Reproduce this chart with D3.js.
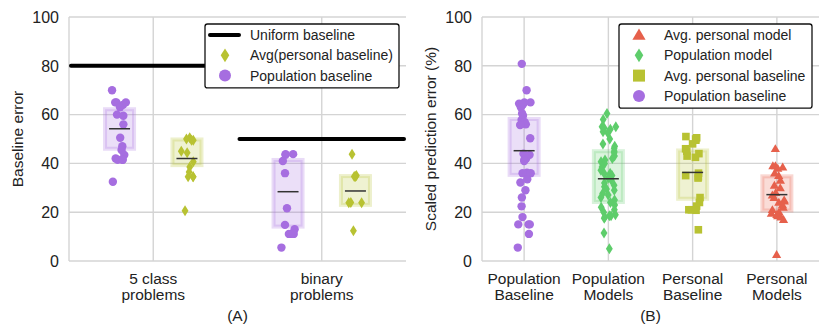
<!DOCTYPE html>
<html>
<head>
<meta charset="utf-8">
<script src="https://cdn.jsdelivr.net/npm/d3@7"></script>
<style>
  body { margin: 0; background: #fff; }
  text { font-family: "Liberation Sans", Arial, sans-serif; fill: #222; }
</style>
</head>
<body>
<script>
// ---- data, panel A ----
var catsA = ["5 class|problems", "binary|problems"];
var uniformBaseline = [80, 50];
var popBaselineA = [
  [70, 65, 65, 65, 64, 63, 60, 59.5, 56, 50.5, 47, 45.5, 43.5, 42, 41.5, 41.5, 41.5, 32.5],
  [43.8, 43.8, 43.5, 41, 36, 21.6, 14.8, 13, 11.1, 11.1, 11.1, 5.5]
];
var avgPersonalA = [
  [50.5, 50, 49.5, 49.5, 45, 44.4, 40.7, 38.5, 36.5, 34.5, 34.5, 34.5, 20.6],
  [43.7, 35, 34.6, 34.6, 24, 23.9, 23.9, 12.4]
];
// box: [low, median, high]
var boxPopA = [[46, 54.2, 62.2], [14.1, 28.4, 41.4]];
var boxAvgA = [[39.3, 42, 49.8], [23, 28.7, 34.8]];

// ---- data, panel B ----
var catsB = ["Population|Baseline", "Population|Models", "Personal|Baseline", "Personal|Models"];
var popBaselineB = [80.8, 70, 65, 65, 64.5, 64, 63, 60.5, 59.5, 57.8, 57, 56, 55.7, 50.3, 44, 43.5, 43, 42,
  41.5, 41, 36.2, 36, 36, 33.5, 32.2, 29, 26, 22.4, 18, 15, 15, 15, 11.1, 5.5];
var popModelsB = [60.5, 58, 55, 55, 54.5, 54, 53, 52.5, 50, 48, 47, 46.2, 45, 44.4, 43, 42, 41.4, 40.7, 40,
  38.5, 37.2, 36, 35.8, 35, 34, 33.2, 32, 31, 30.4, 29.5, 29, 27.7, 27, 26, 25, 24, 23, 22, 21, 20, 19,
  18.5, 18.5, 18, 17.5, 11.5, 5];
var personalBaselineB = [51, 50.5, 50, 49.5, 48, 46, 45, 44, 43, 42.5, 36, 35, 34.5, 34, 26, 24, 22.5, 21, 21, 20.8, 12.8];
var personalModelsB = [46, 39, 39, 38.5, 38, 36, 35, 33, 31, 30, 28, 27, 26, 25, 24.5, 24, 23, 22, 21, 20,
  19.5, 19, 18.5, 18, 17, 2.6];
var boxB = [[35.3, 45.2, 58.2], [24.2, 33.7, 45], [25.5, 36.3, 45.3], [20.7, 27.2, 34.7]];

var yTicks = [0, 20, 40, 60, 80, 100];

// ---- style ----
var width = 830, height = 336;
var purple = "#a66ee0", olive = "#b8c232", green = "#5ecd6b", red = "#e6604b";
var gridColor = "#d4d4d4";

var svg = d3.select("body").append("svg")
    .attr("width", width)
    .attr("height", height);

// marker shapes
var shapes = {
  circle: function (s) { return d3.symbol(d3.symbolCircle, Math.PI * s * s)(); },
  diamond: function (s) { return "M0," + (-s * 1.25) + "L" + (s * 0.78) + ",0L0," + (s * 1.25) + "L" + (-s * 0.78) + ",0Z"; },
  square: function (s) { return "M" + (-s) + "," + (-s) + "h" + (2 * s) + "v" + (2 * s) + "h" + (-2 * s) + "Z"; },
  triangle: function (s) { return "M0," + (-s * 1.1) + "L" + (s * 1.1) + "," + (s * 0.8) + "L" + (-s * 1.1) + "," + (s * 0.8) + "Z"; }
};
var markerSize = { circle: 4.2, diamond: 4.4, square: 3.8, triangle: 4.2 };

// seeded jitter so the strip looks the same every run
var seed = 7;
function rand() {
  seed = (seed * 16807) % 2147483647;
  return (seed - 1) / 2147483646;
}

function makePanel(x0, x1, cats, yLabel, title) {
  var y = d3.scaleLinear().domain([0, 100]).range([261, 17]);
  var x = d3.scaleBand().domain(d3.range(cats.length)).range([x0, x1]);
  var g = svg.append("g");

  // grid
  g.selectAll(".hgrid").data(yTicks).enter().append("line")
      .attr("x1", x0).attr("x2", x1)
      .attr("y1", d => y(d)).attr("y2", d => y(d))
      .attr("stroke", gridColor).attr("stroke-width", 1.4);
  g.selectAll(".vgrid").data(d3.range(cats.length)).enter().append("line")
      .attr("x1", d => x(d) + x.bandwidth() / 2).attr("x2", d => x(d) + x.bandwidth() / 2)
      .attr("y1", y(100)).attr("y2", y(0))
      .attr("stroke", gridColor).attr("stroke-width", 1.4);
  g.append("line").attr("x1", x0).attr("x2", x0).attr("y1", y(100)).attr("y2", y(0))
      .attr("stroke", gridColor).attr("stroke-width", 1.4);

  // y tick labels
  g.selectAll(".ytick").data(yTicks).enter().append("text")
      .attr("x", x0 - 10).attr("y", d => y(d)).attr("dy", "0.36em")
      .attr("text-anchor", "end").style("font-size", "16px")
      .text(d => d);

  // category labels
  cats.forEach(function (c, i) {
    var t = g.append("text").attr("text-anchor", "middle").style("font-size", "15.5px");
    c.split("|").forEach(function (line, j) {
      t.append("tspan").attr("x", x(i) + x.bandwidth() / 2).attr("y", 284 + j * 16).text(line);
    });
  });

  g.append("text")
      .attr("transform", "translate(" + (x0 - 46) + ",139) rotate(-90)")
      .attr("text-anchor", "middle").style("font-size", "15.5px")
      .text(yLabel);
  g.append("text")
      .attr("x", (x0 + x1) / 2).attr("y", 321)
      .attr("text-anchor", "middle").style("font-size", "15.5px")
      .text(title);

  return { g: g, x: x, y: y };
}

function drawGroup(p, cx, values, box, color, shape) {
  var bw = 29;
  p.g.append("rect")
      .attr("x", cx - bw / 2).attr("width", bw)
      .attr("y", p.y(box[2])).attr("height", p.y(box[0]) - p.y(box[2]))
      .attr("fill", color).attr("fill-opacity", 0.22)
      .attr("stroke", color).attr("stroke-opacity", 0.25).attr("stroke-width", 4);
  p.g.selectAll(null).data(values).enter().append("path")
      .attr("d", shapes[shape](markerSize[shape]))
      .attr("transform", d => "translate(" + (cx + (rand() * 2 - 1) * 7.5) + "," + p.y(d) + ")")
      .attr("fill", color);
  p.g.append("line")
      .attr("x1", cx - 10.5).attr("x2", cx + 10.5)
      .attr("y1", p.y(box[1])).attr("y2", p.y(box[1]))
      .attr("stroke", "#333").attr("stroke-width", 1.5);
}

function drawLegend(left, top, w, items) {
  var lg = svg.append("g");
  lg.append("rect")
      .attr("x", left).attr("y", top).attr("width", w).attr("height", items.length * 20.3 + 3)
      .attr("rx", 2.5).attr("fill", "#fff").attr("stroke", "#111").attr("stroke-width", 1.3);
  items.forEach(function (it, i) {
    var yy = top + 11 + i * 20.3;
    if (it.shape === "line") {
      lg.append("line").attr("x1", left + 5).attr("x2", left + 34).attr("y1", yy).attr("y2", yy)
          .attr("stroke", "#000").attr("stroke-width", 4).attr("stroke-linecap", "round");
    } else {
      lg.append("path").attr("d", shapes[it.shape](it.shape === "diamond" ? 5.5 : 6))
          .attr("transform", "translate(" + (left + 20) + "," + yy + ")")
          .attr("fill", it.color);
    }
    lg.append("text").attr("x", left + 45).attr("y", yy).attr("dy", "0.35em")
        .style("font-size", "14px").text(it.label);
  });
}

// ---- panel A ----
var pA = makePanel(69, 406, catsA, "Baseline error", "(A)");
var sub = d3.scaleBand().domain([0, 1]).range([-0.4, 0.4]);
var bwA = pA.x.bandwidth();

svg.append("clipPath").attr("id", "clipA").append("rect")
    .attr("x", 69).attr("y", 17).attr("width", 337).attr("height", 244);
pA.g.append("g").attr("clip-path", "url(#clipA)")
  .selectAll("line").data(uniformBaseline).enter().append("line")
    .attr("x1", (d, i) => pA.x(i) + 2).attr("x2", (d, i) => pA.x(i) + bwA - 2)
    .attr("y1", d => pA.y(d)).attr("y2", d => pA.y(d))
    .attr("stroke", "#000").attr("stroke-width", 4).attr("stroke-linecap", "round");

catsA.forEach(function (c, i) {
  var center = pA.x(i) + bwA / 2;
  drawGroup(pA, center + (sub(0) + sub.bandwidth() / 2) * bwA, popBaselineA[i], boxPopA[i], purple, "circle");
  drawGroup(pA, center + (sub(1) + sub.bandwidth() / 2) * bwA, avgPersonalA[i], boxAvgA[i], olive, "diamond");
});

drawLegend(205, 24, 194, [
  { shape: "line", label: "Uniform baseline" },
  { shape: "diamond", color: olive, label: "Avg(personal baseline)" },
  { shape: "circle", color: purple, label: "Population baseline" }
]);

// ---- panel B ----
var pB = makePanel(482, 819, catsB, "Scaled prediction error (%)", "(B)");
var valuesB = [popBaselineB, popModelsB, personalBaselineB, personalModelsB];
var colorsB = [purple, green, olive, red];
var shapesB = ["circle", "diamond", "square", "triangle"];
catsB.forEach(function (c, i) {
  drawGroup(pB, pB.x(i) + pB.x.bandwidth() / 2, valuesB[i], boxB[i], colorsB[i], shapesB[i]);
});

drawLegend(619, 24, 193, [
  { shape: "triangle", color: red, label: "Avg. personal model" },
  { shape: "diamond", color: green, label: "Population model" },
  { shape: "square", color: olive, label: "Avg. personal baseline" },
  { shape: "circle", color: purple, label: "Population baseline" }
]);
</script>
</body>
</html>
